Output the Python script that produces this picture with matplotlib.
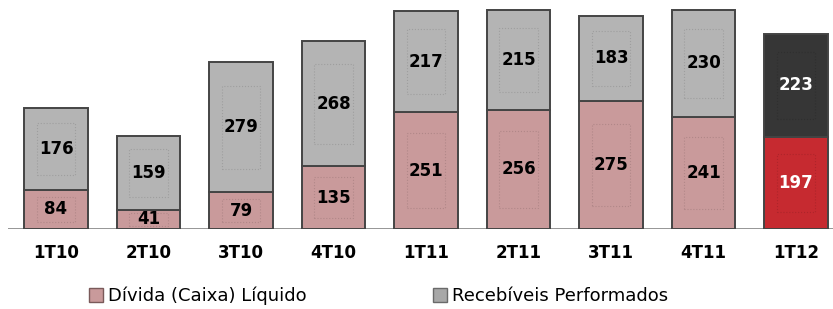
import matplotlib
matplotlib.use("Agg")
import matplotlib.pyplot as plt
from matplotlib.patches import Patch

categories = ["1T10", "2T10", "3T10", "4T10", "1T11", "2T11", "3T11", "4T11", "1T12"]
divida = [84, 41, 79, 135, 251, 256, 275, 241, 197]
recebiveis = [176, 159, 279, 268, 217, 215, 183, 230, 223]
legend_labels = ["Dívida (Caixa) Líquido", "Recebíveis Performados"]

c_pink = "#c99a9b"
c_gray = "#b4b4b4"
c_red = "#c62a30"
c_dark = "#363636"
edge = "#444444"

fig = plt.figure(figsize=(8.33, 3.09), dpi=100)
ax = fig.add_axes([8/833, 80/309, 825/833, 229/309])

x = list(range(len(categories)))
w = 0.69
bot_colors = [c_pink] * (len(x) - 1) + [c_red]
top_colors = [c_gray] * (len(x) - 1) + [c_dark]
txt_colors = ["black"] * (len(x) - 1) + ["white"]

b1 = ax.bar(x, divida, width=w, color=bot_colors, edgecolor=edge, linewidth=1.4, zorder=2)
b2 = ax.bar(x, recebiveis, width=w, bottom=divida, color=top_colors, edgecolor=edge, linewidth=1.4, zorder=2)

# subtle inner frames
for bars in (b1, b2):
    for r in bars:
        bx, by = r.get_x(), r.get_y()
        bw, bh = r.get_width(), r.get_height()
        inner = plt.Rectangle((bx + bw*0.2, by + bh*0.18), bw*0.6, bh*0.64, fill=False,
                              edgecolor=(0, 0, 0, 0.12), linewidth=0.8, linestyle=":", zorder=3)
        ax.add_patch(inner)

for i in x:
    ax.text(i, divida[i] / 2, str(divida[i]), ha="center", va="center",
            fontsize=12, fontweight="bold", color=txt_colors[i], zorder=4)
    ax.text(i, divida[i] + recebiveis[i] / 2, str(recebiveis[i]), ha="center", va="center",
            fontsize=12, fontweight="bold", color=txt_colors[i], zorder=4)

ax.set_xlim(-0.519, 8.4)
ax.set_ylim(0, 492)
ax.axhline(0, color="#8c8c8c", linewidth=2, zorder=1)
for s in ax.spines.values():
    s.set_visible(False)
ax.set_yticks([])
ax.set_xticks(x)
ax.set_xticklabels(categories, fontsize=12, fontweight="bold")
ax.tick_params(axis="x", length=0, pad=11)

handles = [Patch(facecolor=c_pink, edgecolor="#7a5a5a", label=legend_labels[0]),
           Patch(facecolor="#a8a8a8", edgecolor="#6a6a6a", label=legend_labels[1])]
fig.legend(handles=handles, loc="center", bbox_to_anchor=(379/833, 13/309), ncol=2,
           frameon=False, fontsize=13, handlelength=0.75, handleheight=0.75,
           handletextpad=0.3, columnspacing=7.0)

fig.savefig("out.png", dpi=100)
